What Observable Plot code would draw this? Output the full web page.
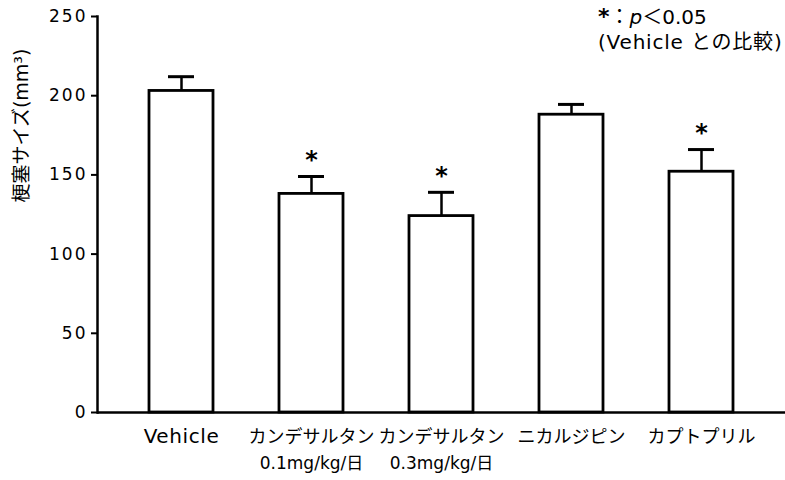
<!DOCTYPE html>
<html><head><meta charset="utf-8">
<script src="https://cdn.jsdelivr.net/npm/d3@7"></script>
<script src="https://cdn.jsdelivr.net/npm/@observablehq/plot@0.6"></script>
<style>
body{margin:0;background:#fff;}
#wrap{position:relative;width:785px;height:480px;}
#legend{position:absolute;left:598px;top:4px;font-family:"DejaVu Sans","Noto Sans CJK JP",sans-serif;font-size:20px;line-height:25px;color:#000;white-space:nowrap;}
#legend b{font-size:22px;}
#legend .l2{letter-spacing:0.8px;}
</style></head><body>
<div id="wrap"><div id="chart"></div>
<div id="legend"><div><b>*</b>：<i>p</i>＜0.05</div><div class="l2">(Vehicle との比較)</div></div></div>
<script>
const categories = ["Vehicle", "カンデサルタン 0.1", "カンデサルタン 0.3", "ニカルジピン", "カプトプリル"];
const labelLine1 = ["Vehicle", "カンデサルタン", "カンデサルタン", "ニカルジピン", "カプトプリル"];
const labelLine2 = ["", "0.1mg/kg/日", "0.3mg/kg/日", "", ""];
const means = [203, 138, 124, 188, 152];
const sems = [9, 11, 15, 6.5, 14];
const significant = [false, true, true, false, true];
const yTicks = [0, 50, 100, 150, 200, 250];
const yTitle = ["梗塞サイズ(mm³)"];

const data = categories.map((c, i) => ({
  cat: c, l1: labelLine1[i], l2: labelLine2[i],
  mean: means[i], sem: sems[i], sig: significant[i]
}));

const chart = Plot.plot({
  width: 785,
  height: 480,
  marginLeft: 97,
  marginRight: 0,
  marginTop: 16,
  marginBottom: 68,
  style: {fontFamily: "'DejaVu Sans','Noto Sans CJK JP',sans-serif", fontSize: "17px", color: "black", background: "white"},
  x: {domain: categories, paddingInner: 0.51, paddingOuter: 0.39, axis: null},
  y: {domain: [0, 250]},
  marks: [
    Plot.barY(data, {x: "cat", y: "mean", fill: "white", stroke: "black", strokeWidth: 2.8}),
    Plot.ruleX(data, {x: "cat", y1: "mean", y2: d => d.mean + d.sem, stroke: "black", strokeWidth: 2.5}),
    Plot.tickY(data, {x: "cat", y: d => d.mean + d.sem, stroke: "black", strokeWidth: 3, insetLeft: 19, insetRight: 19}),
    Plot.text(data.filter(d => d.sig), {x: "cat", y: d => d.mean + d.sem, text: () => "*", dy: -16, fontSize: 24, fontWeight: "bold"}),
    Plot.ruleY([0], {stroke: "black", strokeWidth: 2.5}),
    Plot.frame({anchor: "left", stroke: "black", strokeWidth: 2.5}),
    Plot.axisY({ticks: yTicks, tickSize: 6, tickPadding: 4, fontSize: 17, strokeWidth: 2, label: null}),
    Plot.text(yTitle, {text: d => d, frameAnchor: "left", rotate: -90, dx: -76, dy: -12, fontSize: 19}),
    Plot.text(data, {x: "cat", text: "l1", frameAnchor: "bottom", dy: 30, fontSize: d => d.l1 === "Vehicle" ? 20 : 18}),
    Plot.text(data, {x: "cat", text: "l2", frameAnchor: "bottom", dy: 56, fontSize: 17})
  ]
});
d3.select(chart).selectAll("text").each(function() {
  const t = this.textContent.trim();
  if (/^\d+$/.test(t)) d3.select(this).attr("letter-spacing", "2");
  if (t === "Vehicle") d3.select(this).attr("letter-spacing", "0.6");
});
document.getElementById("chart").appendChild(chart);
</script>
</body></html>
